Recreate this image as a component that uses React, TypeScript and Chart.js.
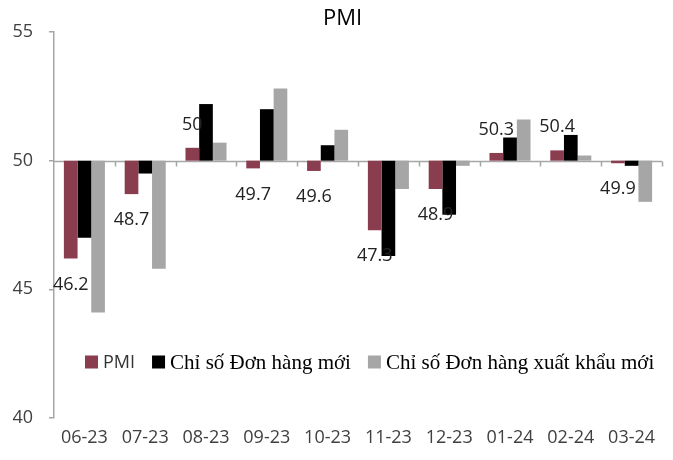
import React, { useEffect, useRef } from "react";
import { Chart, registerables } from "chart.js";

Chart.register(...registerables);

const categories = ["06-23", "07-23", "08-23", "09-23", "10-23", "11-23", "12-23", "01-24", "02-24", "03-24"];
const pmi = [46.2, 48.7, 50.5, 49.7, 49.6, 47.3, 48.9, 50.3, 50.4, 49.9];
const newOrders = [47.0, 49.5, 52.2, 52.0, 50.6, 46.3, 47.9, 50.9, 51.0, 49.8];
const exportOrders = [44.1, 45.8, 50.7, 52.8, 51.2, 48.9, 49.8, 51.6, 50.2, 48.4];
const pmiLabels = ["46.2", "48.7", "50", "49.7", "49.6", "47.3", "48.9", "50.3", "50.4", "49.9"];
const seriesNames = ["PMI", "Chỉ số Đơn hàng mới", "Chỉ số Đơn hàng xuất khẩu mới"];
const yTicks = [40, 45, 50, 55];
const baseValue = 50;
const titleText = "PMI";

const COLORS = ["#8B3D50", "#000000", "#A6A6A6"];
const AXIS = "#A6A6A6";
const TEXT = "#404040";
const SANS = "'Open Sans', sans-serif";
const SERIF = "'Liberation Serif', 'Times New Roman', serif";

const labelPlugin = {
  id: "pmiLabels",
  afterDatasetDraw(chart: any, args: any) {
    if (args.index !== 0) return;
    const ctx = chart.ctx;
    const meta = chart.getDatasetMeta(0);
    const ys = chart.scales.y;
    ctx.save();
    ctx.font = `18px ${SANS}`;
    ctx.fillStyle = "#222222";
    ctx.textAlign = "center";
    ctx.textBaseline = "middle";
    meta.data.forEach((bar: any, i: number) => {
      const v = pmi[i];
      const end = ys.getPixelForValue(v);
      const y = v >= baseValue ? end - 23 : end + 26;
      ctx.fillText(pmiLabels[i], bar.x, y);
    });
    ctx.restore();
  },
};

const axisPlugin = {
  id: "midAxis",
  beforeDatasetsDraw(chart: any) {
    const ctx = chart.ctx;
    const ca = chart.chartArea;
    const y = Math.round(chart.scales.y.getPixelForValue(baseValue)) + 0.5;
    const n = categories.length;
    ctx.save();
    ctx.strokeStyle = AXIS;
    ctx.lineWidth = 1.5;
    ctx.beginPath();
    ctx.moveTo(ca.left, y);
    ctx.lineTo(ca.right, y);
    for (let i = 1; i <= n; i++) {
      const x = Math.round(ca.left + (i * (ca.right - ca.left)) / n) + 0.5;
      ctx.moveTo(x, y);
      ctx.lineTo(x, y + 5);
    }
    ctx.stroke();
    ctx.restore();
  },
};

const titleLegendPlugin = {
  id: "titleLegend",
  afterDraw(chart: any) {
    const ctx = chart.ctx;
    const ca = chart.chartArea;
    ctx.save();
    // title
    ctx.font = `22px ${SANS}`;
    ctx.fillStyle = "#000000";
    ctx.textAlign = "center";
    ctx.textBaseline = "middle";
    ctx.fillText(titleText, chart.width / 2 + 6, 19);
    // legend
    let x = ca.left + 31;
    const y = ca.top + 330;
    const fonts = [`18px ${SANS}`, `21px ${SERIF}`, `21px ${SERIF}`];
    const colors = ["#333333", "#000000", "#000000"];
    ctx.textAlign = "left";
    seriesNames.forEach((name, i) => {
      ctx.fillStyle = COLORS[i];
      ctx.fillRect(x, y - 6.5, 13, 13);
      x += 18;
      ctx.font = fonts[i];
      ctx.fillStyle = colors[i];
      ctx.fillText(name, x, y + 1);
      x += ctx.measureText(name).width + 17;
    });
    ctx.restore();
  },
};

export default function App() {
  const ref = useRef<HTMLCanvasElement | null>(null);
  useEffect(() => {
    if (!ref.current) return;
    const chart = new Chart(ref.current, {
      type: "bar",
      data: {
        labels: categories,
        datasets: [pmi, newOrders, exportOrders].map((vals, i) => ({
          label: seriesNames[i],
          data: vals.map((v) => [baseValue, v]),
          backgroundColor: COLORS[i],
          borderWidth: 0,
          borderSkipped: false,
          categoryPercentage: 0.675,
          barPercentage: 1.0,
        })) as any,
      },
      plugins: [axisPlugin, labelPlugin, titleLegendPlugin],
      options: {
        animation: false,
        responsive: false,
        maintainAspectRatio: false,
        layout: { padding: { left: 0, right: 11, top: 32, bottom: 0 } },
        plugins: {
          legend: { display: false },
          tooltip: { enabled: false },
          title: { display: false },
        },
        scales: {
          x: {
            grid: { display: false, drawTicks: false },
            border: { display: false },
            ticks: {
              color: TEXT,
              font: { family: SANS, size: 18 },
              padding: 9,
              maxRotation: 0,
              autoSkip: false,
            },
            afterFit: (s: any) => {
              s.height = 42;
            },
          },
          y: {
            min: 40,
            max: 55,
            afterBuildTicks: (s: any) => {
              s.ticks = yTicks.map((v) => ({ value: v }));
            },
            grid: {
              drawOnChartArea: false,
              drawTicks: true,
              tickLength: 5,
              color: AXIS,
              lineWidth: 1.5,
            },
            border: { display: true, color: AXIS, width: 1.5 },
            ticks: {
              color: TEXT,
              font: { family: SANS, size: 18 },
              padding: 16,
            },
            afterFit: (s: any) => {
              s.width = 54;
            },
          },
        },
      },
    });
    return () => chart.destroy();
  }, []);
  return (
    <div style={{ position: "fixed", left: 0, top: 0, width: 673, height: 460, background: "#fff" }}>
      <canvas ref={ref} width={673} height={460} style={{ width: 673, height: 460 }} />
    </div>
  );
}
